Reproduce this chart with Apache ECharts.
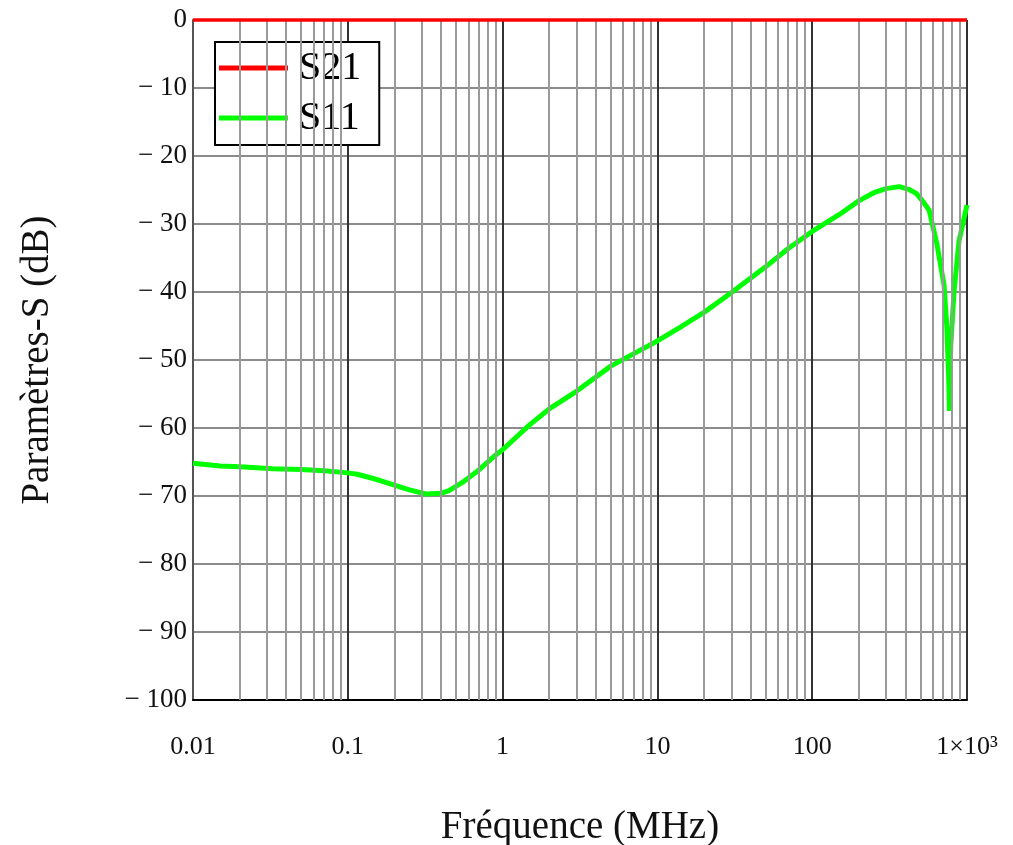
<!DOCTYPE html>
<html>
<head>
<meta charset="utf-8">
<script src="https://cdn.jsdelivr.net/npm/echarts@6/dist/echarts.min.js"></script>
<style>
html,body{margin:0;padding:0;background:#fff;}
#chart{width:1013px;height:845px;}
</style>
</head>
<body>
<div id="chart"></div>
<script>
// Frequencies (MHz) and S11 (dB)
const freq = [0.01, 0.015, 0.02, 0.033, 0.05, 0.07, 0.1, 0.115, 0.15, 0.2, 0.25, 0.32, 0.4, 0.45, 0.55, 0.7, 0.9, 1, 1.5, 2, 3, 5, 7, 10, 14, 20, 30, 50, 70, 100, 150, 200, 250, 300, 365, 420, 470, 520, 570, 640, 711, 740, 760, 770, 785, 824, 888, 1000];
const s11 = [-65.2, -65.6, -65.7, -66.0, -66.1, -66.3, -66.6, -66.8, -67.5, -68.4, -69.1, -69.7, -69.6, -69.2, -68.0, -66.2, -64.0, -63.2, -59.5, -57.2, -54.6, -50.9, -49.1, -47.2, -45.2, -43.0, -40.1, -36.3, -33.6, -31.1, -28.6, -26.6, -25.4, -24.8, -24.5, -24.9, -25.5, -26.7, -28.0, -33.0, -39.0, -45.0, -52.0, -57.5, -48.0, -40.0, -32.5, -27.2];
const s21Freq = [0.01, 1000];
const s21 = [0, 0];
// Minor vertical grid values (2..9 within each decade)
const decades = [0.01, 0.1, 1, 10, 100];
const minorGrid = [];
decades.forEach(function (d) {
  for (let k = 2; k <= 9; k++) minorGrid.push(+(d * k).toPrecision(3));
});
const xTickLabels = {0.01: '0.01', 0.1: '0.1', 1: '1', 10: '10', 100: '100', 1000: '1×10³'};

const serif = 'Liberation Serif';
const chart = echarts.init(document.getElementById('chart'));
chart.setOption({
  animation: false,
  backgroundColor: '#fff',
  grid: {left: 193, right: 46, top: 20, bottom: 145, containLabel: false, outerBoundsMode: 'none'},
  legend: {
    orient: 'vertical',
    left: 215, top: 42,
    backgroundColor: '#fff',
    borderColor: '#000', borderWidth: 2, borderRadius: 0,
    padding: [6, 18, 7, 4],
    itemWidth: 69, itemHeight: 5, itemGap: 10,
    icon: 'rect',
    textStyle: {fontFamily: serif, fontSize: 40, color: '#000', padding: [0, 0, 0, 6]},
    data: ['S21', 'S11']
  },
  xAxis: {
    type: 'log', logBase: 10, min: 0.01, max: 1000,
    name: 'Fréquence (MHz)', nameLocation: 'middle', nameGap: 108,
    nameTextStyle: {fontFamily: serif, fontSize: 39, color: '#111'},
    axisLine: {show: true, onZero: false, lineStyle: {color: '#000', width: 2}},
    axisTick: {show: false},
    axisLabel: {
      fontFamily: serif, fontSize: 26, color: '#111', margin: 34,
      formatter: function (v) { const k = +v.toPrecision(3); return xTickLabels[k] !== undefined ? xTickLabels[k] : ''; }
    },
    splitLine: {show: true, lineStyle: {color: '#333', width: 2}}
  },
  yAxis: {
    type: 'value', min: -100, max: 0, interval: 10,
    name: 'Paramètres-S (dB)', nameLocation: 'middle', nameGap: 136,
    nameTextStyle: {fontFamily: serif, fontSize: 39, color: '#111'},
    axisLine: {show: true, lineStyle: {color: '#555', width: 2}},
    axisTick: {show: false},
    axisLabel: {
      fontFamily: serif, fontSize: 27, color: '#111', margin: 6, padding: [10, 0, 0, 0],
      formatter: function (v) { return v === 0 ? '0' : '− ' + Math.abs(v); }
    },
    splitLine: {show: true, lineStyle: {color: '#8c8c8c', width: 2}}
  },
  series: [
    {
      name: 'minor-grid', type: 'line', data: [], silent: true, z: 1,
      markLine: {
        silent: true, symbol: 'none', animation: false,
        label: {show: false},
        lineStyle: {color: '#9a9a9a', width: 2, type: 'solid'},
        emphasis: {disabled: true},
        data: minorGrid.map(function (v) { return {xAxis: v}; })
      }
    },
    {
      name: 'S21', type: 'line', showSymbol: false, clip: false, z: 5,
      color: '#ff0000',
      lineStyle: {color: '#ff0000', width: 3.5},
      data: s21Freq.map(function (f, i) { return [f, s21[i]]; })
    },
    {
      name: 'S11', type: 'line', showSymbol: false, z: 4,
      color: '#00ff00',
      lineStyle: {color: '#00ff00', width: 5},
      data: freq.map(function (f, i) { return [f, s11[i]]; })
    }
  ]
});
</script>
</body>
</html>
